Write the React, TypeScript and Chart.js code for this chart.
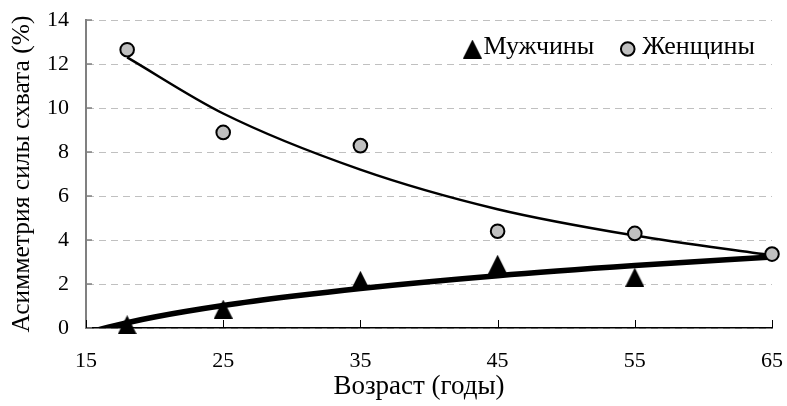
import React, { useEffect, useRef } from 'react';
import { Chart, registerables } from 'chart.js';
Chart.register(...registerables);

const ages = [18, 25, 35, 45, 55, 65];
const menAges = [18, 25, 35, 45, 55];
const menValues = [0.15, 0.86, 2.17, 2.9, 2.31];
const womenValues = [12.65, 8.89, 8.29, 4.4, 4.3, 3.36];
const menTrendAges = [15, 18, 20, 25, 30, 35, 45, 55, 65];
const menTrendValues = [-0.22, 0.24, 0.5, 1.02, 1.44, 1.8, 2.38, 2.84, 3.23];
const womenTrendAges = [18, 25, 35, 45, 55, 65];
const womenTrendValues = [12.3, 9.75, 7.2, 5.4, 4.2, 3.3];
const xTickValues = [15, 25, 35, 45, 55, 65];
const yTickValues = [0, 2, 4, 6, 8, 10, 12, 14];
const seriesLabels = ['Мужчины', 'Женщины'];
const xTitle = 'Возраст (годы)';
const yTitle = 'Асимметрия силы схвата (%)';

const FONT = '"Liberation Serif", "Times New Roman", serif';
const GREY = '#c0c0c0';

function makeTriangle(w: number, h: number, color: string) {
  const c = document.createElement('canvas');
  c.width = w;
  c.height = h;
  const g = c.getContext('2d')!;
  g.fillStyle = color;
  g.beginPath();
  g.moveTo(w / 2, 0);
  g.lineTo(w, h);
  g.lineTo(0, h);
  g.closePath();
  g.fill();
  return c;
}

export default function App() {
  const ref = useRef<HTMLCanvasElement | null>(null);
  useEffect(() => {
    document.body.style.margin = '0';
    const tri = makeTriangle(19, 19, '#000');
    const zip = (xs: number[], ys: number[]) => xs.map((x, i) => ({ x, y: ys[i] }));

    const innerTicks = {
      id: 'innerTicks',
      beforeDatasetsDraw(chart: any) {
        const { ctx, chartArea, scales } = chart;
        ctx.save();
        ctx.strokeStyle = '#808080';
        ctx.lineWidth = 1.5;
        yTickValues.forEach((v) => {
          const py = scales.y.getPixelForValue(v);
          ctx.beginPath();
          ctx.moveTo(chartArea.left, py);
          ctx.lineTo(chartArea.left + 6, py);
          ctx.stroke();
        });
        ctx.strokeStyle = '#000';
        ctx.lineWidth = 1;
        xTickValues.forEach((v) => {
          const px = Math.round(scales.x.getPixelForValue(v)) + 0.5;
          ctx.beginPath();
          ctx.moveTo(px, chartArea.bottom);
          ctx.lineTo(px, chartArea.bottom - 8);
          ctx.stroke();
        });
        ctx.restore();
      },
    };

    const textPlugin = {
      id: 'customText',
      afterDraw(chart: any) {
        const { ctx, chartArea } = chart;
        ctx.save();
        ctx.fillStyle = '#000';
        ctx.textBaseline = 'middle';
        // x-axis title
        ctx.font = `27px ${FONT}`;
        ctx.textAlign = 'center';
        ctx.fillText(xTitle, (chartArea.left + chartArea.right) / 2 - 10, 387);
        // legend
        ctx.font = `26px ${FONT}`;
        ctx.textAlign = 'left';
        const ty = chartArea.top + 27;
        const my = chartArea.top + 29;
        const w1 = ctx.measureText(seriesLabels[0]).width;
        const w2 = ctx.measureText(seriesLabels[1]).width;
        const t2x = chartArea.right - 17 - w2;
        const c2 = t2x - 14.5;
        const t1end = c2 - 33.5;
        const t1x = t1end - w1;
        const c1 = t1x - 11;
        ctx.fillText(seriesLabels[0], t1x, ty);
        ctx.fillText(seriesLabels[1], t2x, ty);
        ctx.drawImage(tri, c1 - tri.width / 2, my - tri.height / 2);
        ctx.beginPath();
        ctx.arc(c2, my, 6.8, 0, Math.PI * 2);
        ctx.fillStyle = GREY;
        ctx.fill();
        ctx.lineWidth = 2;
        ctx.strokeStyle = '#000';
        ctx.stroke();
        ctx.restore();
      },
    };

    const chart = new Chart(ref.current!, {
      type: 'scatter',
      data: {
        datasets: [
          {
            label: seriesLabels[0],
            data: zip(menAges, menValues),
            pointStyle: tri as any,
            pointRadius: 10,
            clip: false as any,
            order: 0,
          },
          {
            label: seriesLabels[1],
            data: zip(ages, womenValues),
            pointStyle: 'circle',
            pointRadius: 6.8,
            pointBackgroundColor: GREY,
            pointBorderColor: '#000',
            pointBorderWidth: 2,
            clip: false as any,
            order: 0,
          },
          {
            label: 'trend-m',
            data: zip(menTrendAges, menTrendValues),
            showLine: true,
            pointRadius: 0,
            borderColor: '#000',
            borderWidth: 5.5,
            cubicInterpolationMode: 'monotone',
            clip: 0 as any,
            order: 1,
          } as any,
          {
            label: 'trend-w',
            data: zip(womenTrendAges, womenTrendValues),
            showLine: true,
            pointRadius: 0,
            borderColor: '#000',
            borderWidth: 2.5,
            cubicInterpolationMode: 'monotone',
            clip: 0 as any,
            order: 1,
          } as any,
        ],
      },
      options: {
        animation: false,
        responsive: false,
        layout: { padding: { top: 20, right: 15, left: 0, bottom: 0 } },
        plugins: {
          legend: { display: false },
          tooltip: { enabled: false },
        },
        scales: {
          x: {
            type: 'linear',
            min: 15,
            max: 65,
            afterBuildTicks: (s: any) => {
              s.ticks = xTickValues.map((v) => ({ value: v }));
            },
            afterFit: (s: any) => {
              s.height = 78;
              s.paddingLeft = 0;
              s.paddingRight = 0;
            },
            grid: { display: false, drawTicks: false },
            border: { display: true, color: '#000', width: 1.5 },
            ticks: {
              padding: 20,
              color: '#000',
              font: { family: FONT, size: 22 },
              maxRotation: 0,
            },
            title: { display: false },
          },
          y: {
            type: 'linear',
            min: 0,
            max: 14,
            afterBuildTicks: (s: any) => {
              s.ticks = yTickValues.map((v) => ({ value: v }));
            },
            afterFit: (s: any) => {
              s.width = 86;
              s.paddingTop = 0;
              s.paddingBottom = 0;
            },
            grid: { display: true, drawTicks: false, color: GREY, lineWidth: 1 },
            border: { display: true, color: '#808080', width: 2, dash: [7, 5] },
            ticks: {
              padding: 17,
              color: '#000',
              font: { family: FONT, size: 22 },
            },
            title: {
              display: true,
              text: yTitle,
              color: '#000',
              font: { family: FONT, size: 25.5 },
              padding: { top: 7, bottom: 0 },
            },
          },
        },
      },
      plugins: [innerTicks, textPlugin],
    });
    return () => chart.destroy();
  }, []);

  return (
    <div style={{ width: 787, height: 406, background: '#fff' }}>
      <canvas ref={ref} width={787} height={406} style={{ display: 'block' }} />
    </div>
  );
}
